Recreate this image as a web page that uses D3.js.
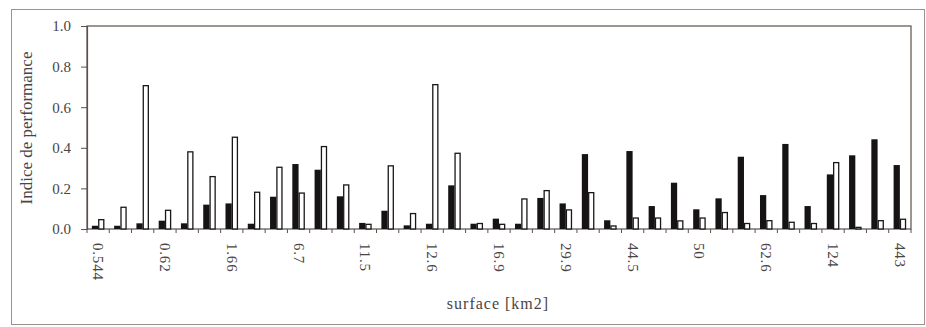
<!DOCTYPE html>
<html><head><meta charset="utf-8">
<script src="https://cdn.jsdelivr.net/npm/d3@7"></script>
<style>body{margin:0;background:#fff}</style>
</head><body>
<svg id="c" width="926" height="327"></svg>
<script>
const tickLabels = ["0.544","0.62","1.66","6.7","11.5","12.6","16.9","29.9","44.5","50","62.6","124","443"];
const groups = d3.range(37);
const seriesBlack = [0.016,0.016,0.028,0.041,0.028,0.12,0.126,0.026,0.159,0.32,0.292,0.161,0.03,0.09,0.018,0.026,0.215,0.026,0.051,0.026,0.153,0.126,0.369,0.043,0.384,0.113,0.228,0.097,0.151,0.356,0.167,0.419,0.113,0.269,0.363,0.442,0.315];
const seriesWhite = [0.049,0.11,0.709,0.095,0.383,0.261,0.455,0.184,0.307,0.18,0.409,0.22,0.026,0.314,0.079,0.714,0.376,0.03,0.026,0.151,0.192,0.097,0.182,0.018,0.057,0.057,0.043,0.057,0.084,0.03,0.044,0.036,0.03,0.33,0.011,0.044,0.051];
const yTicks = [0,0.2,0.4,0.6,0.8,1.0];

const FONT = "Times New Roman, Liberation Serif, Tinos, DejaVu Serif, Noto Serif, serif";
const svg = d3.select("#c");
const L=87, R=911, T=26, B=229;
const x = d3.scaleBand().domain(groups).range([L,R]).paddingInner(0).paddingOuter(0);
const x1 = d3.scaleBand().domain(["b","w"]).range([0,x.bandwidth()]).paddingOuter(0.78).paddingInner(0);
const y = d3.scaleLinear().domain([0,1]).range([B,T]);
const frame = "#5a504c", txt = "#4a4444";

svg.append("rect").attr("x",11.5).attr("y",9.5).attr("width",913).attr("height",315)
  .attr("fill","none").attr("stroke","#9a9290").attr("stroke-width",1);

svg.append("rect").attr("x",L).attr("y",T).attr("width",R-L).attr("height",B-T)
  .attr("fill","none").attr("stroke",frame).attr("stroke-width",1.2);

const ya = svg.append("g").attr("transform",`translate(${L},0)`)
  .call(d3.axisLeft(y).tickValues(yTicks).tickFormat(d3.format(".1f")).tickSize(6).tickPadding(10));
ya.attr("font-family",null);
ya.select(".domain").attr("stroke",frame).attr("stroke-width",1.2);
ya.selectAll(".tick line").attr("stroke",frame);
ya.selectAll("text").style("font-family",FONT).attr("font-size",15).attr("fill",txt);

svg.append("g").selectAll("line").data(d3.range(38)).join("line")
  .attr("x1",i=>L+i*x.step()).attr("x2",i=>L+i*x.step())
  .attr("y1",B).attr("y2",B+4).attr("stroke",frame).attr("stroke-width",1);

svg.append("g").selectAll("text").data(groups.filter(i=>i%3===0)).join("text")
  .attr("transform",i=>`translate(${x(i)+x.bandwidth()/2-5},${B+14}) rotate(90)`)
  .style("font-family",FONT).attr("font-size",15).attr("fill",txt)
  .attr("letter-spacing","0.8px")
  .text(i=>tickLabels[i/3]);

const g = svg.append("g");
g.selectAll(".b").data(groups).join("rect").attr("class","b")
  .attr("x",i=>x(i)+x1("b")).attr("width",x1.bandwidth())
  .attr("y",i=>y(seriesBlack[i])).attr("height",i=>B-y(seriesBlack[i]))
  .attr("fill","#151313");
g.selectAll(".w").data(groups).join("rect").attr("class","w")
  .attr("x",i=>x(i)+x1("w")+0.6).attr("width",x1.bandwidth()-1.2)
  .attr("y",i=>y(seriesWhite[i])+0.6).attr("height",i=>Math.max(0,B-y(seriesWhite[i])-0.6))
  .attr("fill","#fff").attr("stroke","#1a1717").attr("stroke-width",1.3);

svg.append("text").attr("transform",`translate(32,128) rotate(-90)`).attr("text-anchor","middle")
  .style("font-family",FONT).attr("font-size",17).attr("fill",txt).text("Indice de performance");
svg.append("text").attr("x",498).attr("y",309).attr("text-anchor","middle")
  .style("font-family",FONT).attr("font-size",16).attr("fill",txt).attr("letter-spacing","1px").text("surface [km2]");
</script>
</body></html>
